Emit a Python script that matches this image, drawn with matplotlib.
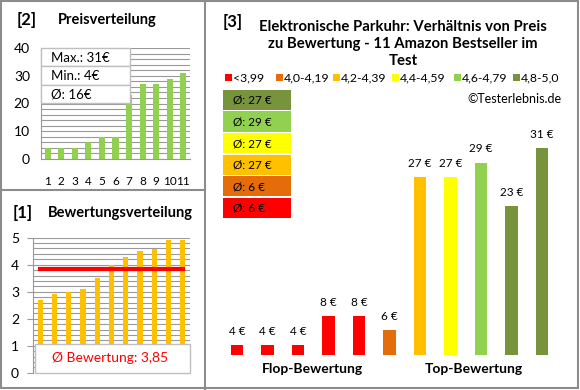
import matplotlib
matplotlib.use("Agg")
import matplotlib.pyplot as plt
from matplotlib.patches import Rectangle
from matplotlib.lines import Line2D

plt.rcParams['font.family'] = ['Lato', 'DejaVu Sans']

# data
products = list(range(1, 11 + 1))
prices = [4, 4, 4, 8, 8, 6, 27, 27, 29, 23, 31]
ratings = [2.7, 2.9, 3.0, 3.1, 3.5, 4.0, 4.3, 4.5, 4.6, 4.9, 4.9]
price_sorted = sorted(prices)
avg_rating = 3.85

legend_labels = ["<3,99", "4,0-4,19", "4,2-4,39", "4,4-4,59", "4,6-4,79", "4,8-5,0"]
legend_colors = ["#FF0000", "#E46C0A", "#FFC000", "#FFFF00", "#92D050", "#77933C"]
group_avgs = ["Ø: 27 €", "Ø: 29 €", "Ø: 27 €", "Ø: 27 €", "Ø: 6 €", "Ø: 6 €"]
group_colors = ["#77933C", "#92D050", "#FFFF00", "#FFC000", "#E46C0A", "#FF0000"]


def bar_color(r):
    if r < 4.0:
        return legend_colors[0]
    if r < 4.2:
        return legend_colors[1]
    if r < 4.4:
        return legend_colors[2]
    if r < 4.6:
        return legend_colors[3]
    if r < 4.8:
        return legend_colors[4]
    return legend_colors[5]


W, H = 580, 390
fig = plt.figure(figsize=(W / 100, H / 100), dpi=100)


def px(x0, y0, x1, y1):
    """pixel box (top-left origin) -> figure rect"""
    return [x0 / W, 1 - y1 / H, (x1 - x0) / W, (y1 - y0) / H]


def frect(x0, y0, x1, y1, **kw):
    r = Rectangle((x0 / W, 1 - y1 / H), (x1 - x0) / W, (y1 - y0) / H,
                  transform=fig.transFigure, **kw)
    fig.patches.append(r)


def ftext(x, y, s, **kw):
    fig.text(x / W, 1 - y / H, s, **kw)


grid_c = "#999999"
tick_fs = 10

# ---- [2] Preisverteilung
ax1 = fig.add_axes(px(41, 48, 190, 159))
ax1.bar(products, price_sorted, width=0.45, color="#92D050", zorder=3)
ax1.set_xlim(0.5, 11.5)
ax1.set_ylim(0, 40)
ax1.set_yticks(range(0, 41, 10))
ax1.set_yticks(range(0, 41, 2), minor=True)
ax1.set_xticks(products)
ax1.grid(axis="y", which="both", color=grid_c, lw=0.8, zorder=0)
for s in ["top", "right"]:
    ax1.spines[s].set_visible(False)
for s in ["left", "bottom"]:
    ax1.spines[s].set_color(grid_c)
ax1.tick_params(axis="y", which="both", length=0, labelsize=tick_fs, pad=8)
ax1.tick_params(axis="x", length=0, labelsize=8.5, pad=12)

# info box
for i, txt in enumerate(["Max.: 31€", "Min.: 4€", "Ø: 16€"]):
    y0 = 48 + i * 18.3
    frect(41, y0, 130, y0 + 18.3, facecolor="white", edgecolor="#BFBFBF", lw=1, zorder=5)
    ftext(51, y0 + 9.5, txt, fontsize=9.5, va="center", ha="left", zorder=6)

ftext(17, 20, "[2]", fontsize=12, fontweight="bold", va="center")
ftext(58, 20, "Preisverteilung", fontsize=10.5, fontweight="bold", va="center")

# ---- [1] Bewertungsverteilung
ax2 = fig.add_axes(px(33, 237.7, 190, 372.7))
ax2.bar(products, ratings, width=0.36, color="#FFC000", zorder=3)
ax2.plot(products, [avg_rating] * len(products), color="#FF0000", lw=3, zorder=4)
ax2.set_xlim(0.5, 11.5)
ax2.set_ylim(0, 5)
ax2.set_yticks(range(0, 6))
ax2.set_yticks([i * 0.2 for i in range(26)], minor=True)
ax2.set_xticks([])
ax2.grid(axis="y", which="both", color=grid_c, lw=0.8, zorder=0)
for s in ["top", "right", "bottom"]:
    ax2.spines[s].set_visible(False)
ax2.spines["left"].set_color(grid_c)
ax2.tick_params(axis="y", which="major", length=4, color=grid_c, direction="out",
                labelsize=tick_fs, pad=6)
ax2.tick_params(axis="y", which="minor", length=0)

frect(35, 344, 190, 373, facecolor="white", edgecolor="#BFBFBF", lw=1, zorder=5)
ftext(110, 358, "Ø Bewertung: 3,85", fontsize=10, color="#FF0000",
      ha="center", va="center", zorder=6)

ftext(13, 213, "[1]", fontsize=12, fontweight="bold", va="center")
ftext(48, 213, "Bewertungsverteilung", fontsize=10.5, fontweight="bold", va="center")

# ---- [3] Preis zu Bewertung
ax3 = fig.add_axes(px(221.75, 130, 557.25, 355))
xs = list(range(len(prices)))
ax3.bar(xs, prices, width=0.4, color=[bar_color(r) for r in ratings], zorder=3)
ax3.set_xlim(-0.5, 10.5)
ax3.set_ylim(2.64, 33.47)
ax3.axis("off")
for x, p in zip(xs, prices):
    ax3.annotate(f"{p} €", (x, p), xytext=(0, 6), textcoords="offset points",
                 ha="center", va="bottom", fontsize=8.5)

ftext(223, 22, "[3]", fontsize=12, fontweight="bold", va="center")
ftext(403, 44, "Elektronische Parkuhr: Verhältnis von Preis\nzu Bewertung - 11 Amazon Bestseller im\nTest",
      fontsize=10.7, fontweight="bold", ha="center", va="center", linespacing=1.25)

# legend
sq_x = [225, 276, 333, 392, 454, 513]
for x, lab, c in zip(sq_x, legend_labels, legend_colors):
    frect(x, 74, x + 6.5, 80.5, facecolor=c, edgecolor="none")
    ftext(x + 8, 77.5, lab, fontsize=8.8, va="center", ha="left")

ftext(562, 99, "©Testerlebnis.de", fontsize=9, ha="right", va="center")

# group averages
for i, (txt, c) in enumerate(zip(group_avgs, group_colors)):
    y0 = 90 + i * 21.5
    frect(223, y0, 291, y0 + 20, facecolor=c, edgecolor="none")
    ftext(233, y0 + 10.5, txt, fontsize=8.5, va="center", ha="left")

ftext(312, 369, "Flop-Bewertung", fontsize=10, fontweight="bold", ha="center", va="center")
ftext(474, 369, "Top-Bewertung", fontsize=10, fontweight="bold", ha="center", va="center")

# panel borders
bc = "#8C8C8C"
frect(1, 1, 578, 388, facecolor="none", edgecolor=bc, lw=1.5)
fig.lines.append(Line2D([205 / W, 205 / W], [0, 1], transform=fig.transFigure, color=bc, lw=1.5))
fig.lines.append(Line2D([0, 205 / W], [1 - 190 / H, 1 - 190 / H], transform=fig.transFigure, color=bc, lw=1.5))

fig.savefig("out.png", dpi=100, facecolor="white")
